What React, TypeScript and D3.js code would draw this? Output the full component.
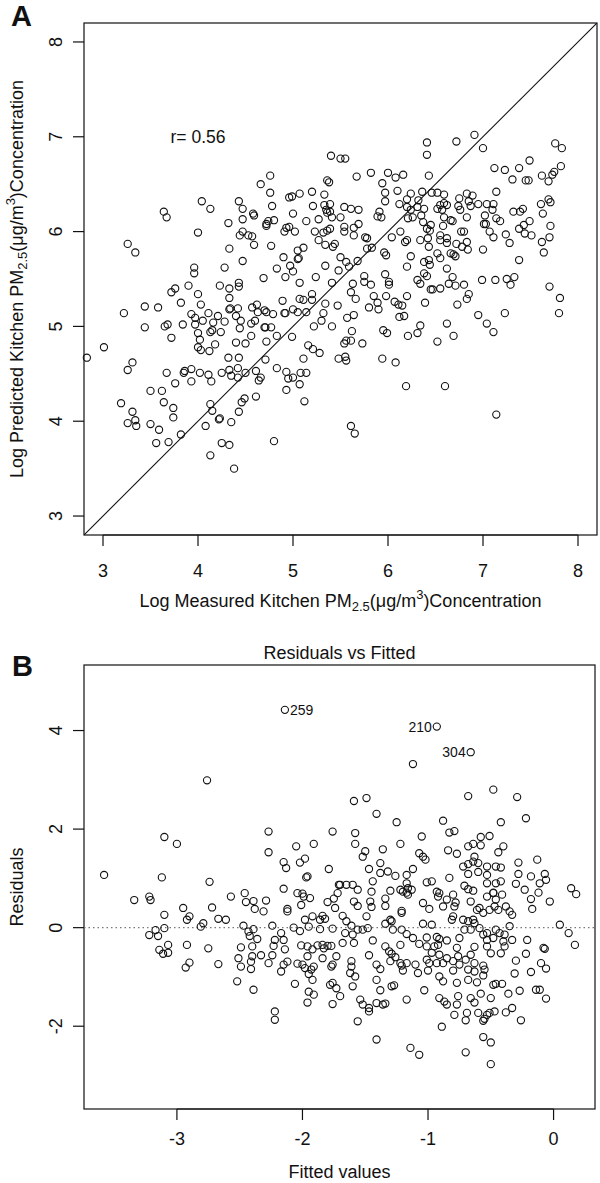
import React from "react";
import * as d3 from "d3";

// ---------- Panel A data: log measured vs log predicted ----------
const measured = [
5.40,5.50,5.55,4.76,4.66,4.76,5.36,5.38,4.04,4.13,4.43,4.47,3.64,3.67,4.32,4.47,4.58,4.59,4.72,4.74,
4.80,4.78,4.96,4.99,5.07,5.20,5.33,5.21,5.33,5.39,5.35,5.36,5.39,5.00,5.14,5.27,5.41,4.93,4.96,5.02,
4.91,5.23,5.27,5.32,5.36,5.39,5.34,5.42,5.44,4.00,4.44,4.47,4.53,4.57,4.59,4.72,4.77,4.33,3.26,3.34,
5.05,5.11,5.05,5.06,4.47,4.90,4.28,3.96,3.96,4.83,4.97,5.00,5.34,5.48,5.24,4.92,4.69,5.07,5.41,4.23,
4.33,4.43,4.43,3.90,3.72,3.76,4.00,4.33,3.82,4.03,3.44,3.58,3.22,4.33,4.34,4.42,4.57,4.62,4.63,4.70,
4.72,4.89,5.07,5.11,5.20,5.20,5.34,5.47,4.79,4.91,4.92,5.00,5.05,5.14,5.32,5.30,3.93,3.97,4.11,4.05,
4.16,4.21,4.28,4.40,4.45,4.56,4.60,3.97,3.68,3.65,3.44,3.84,4.70,4.71,4.77,4.44,4.13,4.15,4.24,4.00,
3.72,4.02,4.56,4.72,4.83,4.99,5.22,5.41,4.18,4.40,4.50,4.00,4.03,4.12,3.01,2.83,5.16,5.21,5.28,5.48,
4.32,4.43,4.71,5.11,3.31,3.26,3.67,3.85,3.86,3.93,3.93,4.02,4.11,4.14,3.76,4.25,4.33,4.35,4.42,4.42,
4.50,4.61,4.64,4.66,4.83,4.93,4.95,5.00,4.93,5.08,5.14,5.07,3.50,3.62,3.19,3.64,3.74,3.74,3.31,3.34,
3.26,3.35,3.50,3.59,3.56,3.69,3.82,4.13,4.15,4.22,4.23,4.35,4.43,4.46,4.49,4.61,5.12,4.08,4.25,4.33,
4.13,4.80,4.38,
6.41,6.72,6.91,7.00,6.41,7.76,7.83,5.67,5.82,6.00,6.08,6.16,5.94,6.43,7.12,7.23,7.38,7.49,7.31,7.45,
7.48,7.62,7.69,7.73,7.75,7.82,5.97,5.97,6.10,6.24,6.20,6.36,6.46,6.52,6.59,6.32,6.31,6.12,6.20,6.24,
6.38,6.75,6.83,6.89,6.85,6.87,6.74,6.76,6.95,7.04,7.11,7.10,7.14,6.55,6.59,6.62,6.52,6.57,5.54,5.61,
5.69,5.89,5.93,5.91,6.21,6.26,6.35,6.37,6.45,6.41,6.44,6.59,6.58,6.66,6.68,6.83,7.02,7.01,7.03,7.14,
7.18,7.32,7.42,7.39,7.61,7.63,7.69,7.71,7.49,7.38,7.43,7.44,7.51,7.71,7.70,5.50,5.54,5.54,5.64,5.69,
5.64,5.76,5.78,6.04,6.13,6.18,6.20,6.34,6.42,6.43,6.55,6.55,6.62,6.62,6.72,6.77,6.80,6.78,6.83,6.84,
7.07,7.11,7.24,7.28,7.00,7.62,7.64,7.38,5.50,5.56,5.68,5.78,5.83,5.96,5.98,6.24,6.20,6.38,6.43,6.44,
6.52,6.55,6.66,6.69,6.71,6.62,5.59,5.75,5.75,5.82,5.97,6.01,6.01,6.31,6.34,6.38,6.41,6.45,6.47,6.55,
6.64,6.68,6.71,6.80,6.85,6.83,6.73,6.99,7.13,7.25,7.29,7.33,7.70,7.81,7.80,5.63,5.61,5.66,5.57,5.64,
5.62,5.85,5.89,5.90,5.80,5.98,6.07,6.11,6.15,6.12,6.17,6.20,6.39,5.95,5.99,6.21,6.31,6.34,6.52,6.62,
6.69,6.95,7.04,7.11,7.23,5.54,5.56,5.61,5.73,5.55,5.56,5.94,6.08,6.19,6.60,7.14,5.61,5.65
];
const predicted = [
6.80,6.77,6.77,6.59,6.50,6.41,6.54,6.52,6.32,6.24,6.32,6.24,6.21,6.15,6.09,6.13,6.19,6.17,6.08,6.11,
6.12,6.27,6.36,6.37,6.40,6.42,6.39,6.27,6.28,6.29,6.23,6.20,6.21,6.19,6.11,6.13,6.15,6.04,6.05,6.00,
6.00,6.00,5.91,5.99,6.01,6.03,5.86,5.84,5.87,5.99,5.96,6.00,5.96,5.95,5.86,6.06,5.85,5.82,5.87,5.78,
5.80,5.83,5.71,5.72,5.69,5.73,5.62,5.62,5.56,5.61,5.64,5.58,5.64,5.59,5.52,5.52,5.51,5.46,5.46,5.43,
5.40,5.46,5.42,5.43,5.36,5.40,5.34,5.30,5.25,5.23,5.21,5.20,5.14,5.18,5.19,5.19,5.20,5.23,5.15,5.17,
5.15,5.27,5.29,5.28,5.34,5.28,5.24,5.22,5.13,5.14,5.14,5.18,5.15,5.15,5.14,5.06,5.13,5.09,5.14,5.06,
5.04,5.11,5.05,5.11,5.06,5.03,5.06,5.02,5.02,5.00,4.99,5.02,4.99,4.99,4.99,4.98,4.94,4.96,4.94,4.93,
4.88,4.86,4.90,4.84,4.90,4.89,5.00,5.00,4.81,4.83,4.82,4.78,4.75,4.74,4.78,4.67,4.80,4.76,4.72,4.66,
4.67,4.67,4.65,4.66,4.62,4.54,4.51,4.51,4.53,4.55,4.42,4.51,4.49,4.42,4.40,4.51,4.54,4.48,4.56,4.46,
4.51,4.53,4.43,4.46,4.56,4.52,4.45,4.46,4.33,4.51,4.51,4.39,4.32,4.32,4.19,4.20,4.14,4.04,4.10,4.01,
3.98,3.95,3.97,3.91,3.77,3.78,3.86,4.18,4.11,4.02,4.03,3.99,4.10,4.20,4.24,4.26,4.21,3.95,3.77,3.75,
3.64,3.79,3.50,
6.94,6.95,7.02,6.88,6.81,6.93,6.88,6.58,6.62,6.62,6.57,6.60,6.51,6.59,6.67,6.65,6.67,6.75,6.55,6.54,
6.54,6.59,6.53,6.60,6.63,6.69,6.41,6.32,6.43,6.40,6.34,6.42,6.41,6.41,6.39,6.33,6.26,6.29,6.26,6.23,
6.24,6.35,6.40,6.38,6.32,6.27,6.27,6.23,6.29,6.29,6.29,6.23,6.42,6.28,6.30,6.28,6.24,6.23,6.26,6.24,
6.23,6.16,6.15,6.21,6.14,6.15,6.17,6.10,6.07,6.03,6.01,6.15,6.06,6.12,6.11,6.15,6.17,6.08,6.08,6.14,
6.11,6.21,6.24,6.21,6.29,6.19,6.34,6.31,6.11,6.03,6.07,5.98,5.96,6.06,5.94,6.15,6.05,6.00,6.04,6.08,
5.96,5.94,5.93,5.94,6.00,5.89,5.91,5.91,5.93,5.84,5.96,5.91,5.93,5.88,5.87,6.00,6.00,5.84,5.89,5.81,
6.00,5.94,5.97,5.88,5.81,5.89,5.78,5.70,5.73,5.68,5.69,5.82,5.83,5.78,5.75,5.74,5.63,5.68,5.70,5.65,
5.77,5.72,5.77,5.76,5.74,5.61,5.63,5.53,5.47,5.44,5.55,5.47,5.44,5.49,5.45,5.56,5.53,5.39,5.39,5.40,
5.45,5.52,5.43,5.44,5.34,5.29,5.23,5.49,5.49,5.50,5.44,5.52,5.42,5.30,5.14,5.45,5.36,5.29,5.09,5.12,
4.95,5.32,5.25,5.18,5.20,5.32,5.26,5.23,5.22,5.10,5.11,5.32,5.25,4.96,4.93,4.90,4.93,5.01,4.84,5.03,
4.90,5.12,5.03,4.94,5.14,4.82,4.85,4.85,4.82,4.68,4.64,4.66,4.62,4.37,4.37,4.07,3.95,3.87
];
const correlationText = "r= 0.56";
const axisTicksA = [3, 4, 5, 6, 7, 8];

// ---------- Panel B data: residuals vs fitted ----------
const pointLabels = ["259", "210", "304"]; // first three points are labelled
const fitted = [
-2.14,-0.93,-0.66,
-2.76,-3.10,-3.00,-2.27,-2.27,-2.05,-1.91,-1.76,-2.15,-2.13,-2.02,-1.98,-1.97,-1.96,-1.79,-3.58,-3.12,
-2.74,-3.34,-3.22,-3.21,-2.95,-2.92,-2.90,-3.10,-2.72,-2.57,-2.67,-2.61,-2.81,-2.79,-2.46,-2.45,-2.39,-2.38,-2.29,-2.31,
-2.15,-2.12,-2.12,-2.04,-2.00,-1.99,-1.94,-2.01,-1.80,-1.75,-1.74,-1.71,-1.72,-1.98,-1.92,-1.86,-1.84,-1.82,-2.07,-2.02,
-1.95,-1.86,-1.76,-3.22,-3.15,-3.17,-3.10,-3.14,-3.11,-3.07,-3.07,-2.92,-2.90,-2.93,-2.75,-2.67,-2.47,-2.43,-2.42,-2.39,
-2.36,-2.49,-2.51,-2.49,-2.41,-2.41,-2.40,-2.40,-2.33,-2.52,-2.39,-2.27,-2.24,-2.22,-2.23,-2.24,-2.17,-2.15,-2.14,-2.17,
-2.15,-2.12,-2.22,-2.22,-2.06,-2.04,-2.00,-1.98,-1.96,-1.95,-1.93,-1.91,-1.92,-2.01,-1.96,-1.92,-1.88,-1.84,-1.83,-1.80,
-1.77,-1.95,-1.91,-1.96,-1.84,-1.77,-1.76,-1.78,-1.76,-1.73,-1.76,-1.73,
-1.12,-1.59,-1.49,-1.41,-1.25,-0.68,-0.48,-0.29,-0.22,-0.42,-0.88,-0.83,-0.79,-1.58,-1.58,-1.50,-1.52,-1.36,-1.22,-1.05,
-1.07,-1.04,-1.02,-1.38,-1.47,-1.44,-1.45,-1.38,-1.32,-1.26,-1.17,-1.12,-1.17,-1.16,-1.22,-1.20,-1.13,-1.30,-1.70,-1.65,
-1.60,-1.56,-1.59,-1.56,-1.46,-1.45,-1.49,-1.34,-1.34,-1.30,-1.29,-1.34,-1.21,-1.21,-1.28,-1.21,-1.17,-1.68,-1.65,-1.61,
-1.56,-1.52,-1.48,-1.66,-1.68,-1.60,-1.59,-1.44,-1.47,-1.34,-1.31,-1.29,-1.22,-1.30,-1.26,-1.22,-1.21,-1.20,-1.41,-1.38,
-1.41,-1.38,-1.61,-1.61,-1.62,-1.58,-1.60,-1.70,-1.54,-1.52,-1.47,-1.47,-1.56,-1.41,-1.36,-1.34,-1.41,-1.29,-1.27,-1.17,
-1.14,-1.07,-1.17,-1.10,-1.08,-1.00,-1.03,-1.12,-1.07,-1.01,-1.01,-0.97,-1.01,-0.99,-1.04,-0.97,-0.93,-0.91,-0.92,-0.95,
-0.85,-0.91,-0.85,-0.93,-0.88,-0.91,-0.88,-0.91,-0.87,-0.85,-0.89,-0.79,-0.77,-0.76,-0.77,-0.80,-0.80,-0.76,-0.75,-0.77,
-0.75,-0.70,-0.69,-0.70,-0.66,-0.63,-0.60,-0.56,-0.55,-0.53,-0.51,-0.47,-0.56,-0.50,-0.50,-0.68,-0.61,-0.58,-0.50,-0.48,
-0.46,-0.41,-0.36,-0.38,-0.33,-0.26,-0.27,-0.31,-0.30,-0.22,-0.18,-0.14,-0.11,-0.06,-0.10,-0.06,-0.08,-0.07,-0.21,-0.33,
-0.40,-0.39,-0.42,-0.70,-0.68,-0.63,-0.63,-0.56,-0.55,-0.56,-0.66,-0.63,-0.53,-0.50,-0.48,-0.53,-0.46,-0.43,-0.39,-0.35,
-0.64,-0.63,-0.66,-0.59,-0.56,-0.53,-0.72,-0.68,-0.71,-0.61,-0.59,-0.56,-0.51,-0.47,-0.44,-0.38,-0.35,-0.33,-0.66,-0.53,
-0.48,-0.46,-0.41,-0.81,-0.80,-0.79,-0.78,-0.80,-0.88,-0.85,-0.91,-0.93,-0.92,-0.99,-1.04,-1.01,-0.97,-0.71,-0.68,-0.64,
-0.83,-0.72,-0.68,-0.68,-0.64,-0.60,-0.53,-0.63,-0.60,-0.53,-0.53,-0.46,-0.42,-0.46,-0.42,-0.48,-0.77,-0.84,-0.68,-0.64,
-0.58,-0.51,-0.58,-0.44,-0.40,-0.28,-0.28,-0.30,-0.13,-0.18,-0.07,-0.11,-0.06,-0.18,-0.17,-0.12,-0.03,-0.23,0.05,0.12,
0.17,0.14,0.18,-1.17,-1.16
];
const residuals = [
4.42,4.08,3.56,
2.99,1.84,1.70,1.95,1.53,1.65,1.70,1.95,1.33,1.21,1.32,1.40,1.02,1.04,1.19,1.07,1.02,
0.93,0.56,0.63,0.56,0.40,0.16,0.23,0.26,0.41,0.63,0.18,0.16,0.02,0.09,0.70,0.52,0.54,0.38,0.55,0.33,
0.79,0.33,0.38,0.70,0.69,0.63,0.60,0.46,0.52,0.59,0.40,0.87,0.70,0.16,0.23,0.16,0.24,0.18,0.00,-0.07,
0.02,-0.03,-0.02,-0.15,-0.17,-0.05,-0.01,-0.45,-0.53,-0.51,-0.35,-0.35,-0.71,-0.81,-0.42,-0.74,0.04,-0.08,-0.17,-0.03,
-0.23,-0.40,-0.62,-0.79,-0.69,-0.84,-0.38,-0.58,-0.56,-1.09,-1.26,-0.72,0.04,-0.25,-0.37,-0.56,-0.11,-0.25,-0.44,-0.89,
-0.75,-0.69,-1.70,-1.87,-1.14,-0.73,-0.75,-0.82,-0.58,-0.94,-0.85,-0.79,-1.06,-0.36,-0.38,-0.44,-0.36,-0.35,-0.42,-0.37,
-0.37,-1.30,-1.36,-1.52,-0.62,-0.79,-0.75,-1.16,-1.12,-1.23,-1.55,-0.58,
3.32,2.57,2.63,2.31,2.14,2.67,2.80,2.65,2.22,2.14,2.17,1.93,1.96,1.92,1.70,1.55,1.44,1.59,1.70,1.85,
1.51,1.44,1.38,1.31,1.19,0.94,0.73,1.11,1.14,1.05,1.07,1.19,0.90,0.80,0.77,0.73,0.77,0.75,0.87,0.87,
0.87,0.77,0.53,0.44,0.53,0.42,0.23,0.59,0.44,0.16,0.13,0.08,0.34,0.30,-0.04,-0.04,-0.13,0.24,0.13,0.04,
-0.04,-0.04,-0.01,-0.11,-0.31,-0.14,-0.31,-0.26,-0.56,-0.38,-0.48,-0.53,-0.35,-0.68,-0.60,-0.72,-0.77,-0.87,-0.75,-0.84,
-1.06,-1.27,-0.68,-0.79,-0.92,-0.99,-1.19,-1.39,-1.46,-1.56,-1.70,-1.63,-1.90,-1.53,-1.56,-1.54,-2.27,-1.19,-1.17,-1.46,
-2.44,-2.58,-0.72,-0.75,-0.92,-0.87,-1.27,-0.21,-0.33,-0.20,-0.38,-0.51,-0.65,-0.72,0.08,0.06,-0.19,-0.23,-0.35,-0.38,
-0.26,-0.55,-0.62,-0.72,-0.72,-0.99,-1.09,-1.43,-1.50,-1.56,-2.01,-1.77,-1.56,-1.39,-1.12,-0.87,-0.68,-0.58,-0.75,-0.41,
-0.21,-1.88,-1.73,-2.53,-1.43,-1.52,-1.73,-1.89,-1.85,-1.77,-1.73,-1.70,-2.22,-2.33,-2.77,-1.06,-1.11,-1.34,-1.43,-1.16,
-1.14,-1.14,-1.34,-1.72,-1.63,-1.88,-1.28,-0.93,-0.67,-0.53,-0.90,-1.26,-1.26,-1.44,-0.72,-0.83,-0.41,-0.43,-0.25,-0.25,
-0.28,-0.38,-0.52,-0.65,-0.85,-0.72,-0.89,-0.77,-0.85,-0.97,-0.55,-0.39,-0.38,-0.52,-0.21,-0.25,-0.04,-0.11,-0.14,0.03,
0.16,0.09,-0.04,-0.01,-0.14,-0.11,0.16,0.13,-0.04,0.36,0.40,0.30,0.36,0.43,0.36,0.43,0.33,0.26,0.53,0.63,
0.70,0.57,0.67,0.16,0.23,0.43,0.51,0.67,0.43,0.57,0.70,0.73,0.63,0.38,0.50,0.92,0.94,0.85,0.78,0.75,
1.01,1.24,1.29,1.09,1.34,1.31,1.24,1.44,1.13,1.07,0.90,1.24,1.22,0.90,0.94,0.71,1.50,1.57,1.65,1.70,
1.84,1.86,1.67,1.53,1.65,1.32,1.09,0.89,1.38,1.04,1.09,0.90,0.97,0.58,0.38,0.71,0.53,0.77,0.06,-0.11,
-0.35,0.80,0.68,0.71,0.67
];
const fittedTicks = [-3, -2, -1, 0];
const residualTicks = [-2, 0, 2, 4];

const FONT = "'Liberation Sans', Arial, Helvetica, sans-serif";
const INK = "#111";

function Unit({ prefix }: { prefix: string }) {
  return (
    <>
      {prefix} PM
      <tspan fontSize={13} dy={4}>2.5</tspan>
      <tspan dy={-4}>(μg/m</tspan>
      <tspan fontSize={13} dy={-8}>3</tspan>
      <tspan dy={8}>)Concentration</tspan>
    </>
  );
}

export default function App() {
  // Panel A geometry
  const A = { left: 84, right: 597, top: 23, bottom: 535 };
  const xA = d3.scaleLinear().domain([2.8, 8.2]).range([A.left, A.right]);
  const yA = d3.scaleLinear().domain([2.8, 8.2]).range([A.bottom, A.top]);

  // Panel B geometry
  const B = { left: 84, right: 595, top: 665, bottom: 1109 };
  const xB = d3.scaleLinear().domain([-3.74, 0.33]).range([B.left, B.right]);
  const yB = d3.scaleLinear().domain([-3.68, 5.33]).range([B.bottom, B.top]);

  const tick = 11;
  const r = 3.6;
  const diag = d3.line<number>().x((v) => xA(v)).y((v) => yA(v))([2.8, 8.2]);

  return (
    <svg
      width={600}
      height={1183}
      style={{ position: "absolute", left: 0, top: 0, background: "#fff" }}
      fontFamily={FONT}
    >
      <rect x={0} y={0} width={600} height={1183} fill="#fff" />
      <defs>
        <clipPath id="clipA">
          <rect x={A.left} y={A.top} width={A.right - A.left} height={A.bottom - A.top} />
        </clipPath>
      </defs>

      {/* ---------------- Panel A ---------------- */}
      <text x={11} y={26} fontSize={29} fontWeight="bold" fill={INK}>A</text>
      <rect x={A.left} y={A.top} width={A.right - A.left} height={A.bottom - A.top}
        fill="none" stroke={INK} strokeWidth={1.2} />
      <path d={diag || ""} stroke={INK} strokeWidth={1.1} fill="none" clipPath="url(#clipA)" />
      {measured.map((m, i) => (
        <circle key={"a" + i} cx={xA(m)} cy={yA(predicted[i])} r={r}
          fill="none" stroke={INK} strokeWidth={1.1} />
      ))}
      <text x={xA(4)} y={yA(7) + 6} fontSize={17.5} textAnchor="middle" fill={INK}>{correlationText}</text>
      {/* x axis */}
      <line x1={xA(3)} x2={xA(8)} y1={A.bottom} y2={A.bottom} stroke={INK} strokeWidth={1.2} />
      {axisTicksA.map((t) => (
        <g key={"xa" + t}>
          <line x1={xA(t)} x2={xA(t)} y1={A.bottom} y2={A.bottom + tick} stroke={INK} strokeWidth={1.2} />
          <text x={xA(t)} y={577} fontSize={18} textAnchor="middle" fill={INK}>{t}</text>
        </g>
      ))}
      <text x={(A.left + A.right) / 2} y={607} fontSize={18} textAnchor="middle" fill={INK}>
        <Unit prefix="Log Measured Kitchen" />
      </text>
      {/* y axis */}
      {axisTicksA.map((t) => (
        <g key={"ya" + t}>
          <line x1={A.left - tick} x2={A.left} y1={yA(t)} y2={yA(t)} stroke={INK} strokeWidth={1.2} />
          <text transform={`translate(62,${yA(t)}) rotate(-90)`} fontSize={18} textAnchor="middle" fill={INK}>{t}</text>
        </g>
      ))}
      <text transform={`translate(23,${(A.top + A.bottom) / 2}) rotate(-90)`} fontSize={18}
        textAnchor="middle" fill={INK}>
        <Unit prefix="Log Predicted Kitchen" />
      </text>

      {/* ---------------- Panel B ---------------- */}
      <text x={12} y={676} fontSize={29} fontWeight="bold" fill={INK}>B</text>
      <text x={(B.left + B.right) / 2} y={659} fontSize={18} textAnchor="middle" fill={INK}>Residuals vs Fitted</text>
      <rect x={B.left} y={B.top} width={B.right - B.left} height={B.bottom - B.top}
        fill="none" stroke={INK} strokeWidth={1.2} />
      <line x1={B.left} x2={B.right} y1={yB(0)} y2={yB(0)} stroke="#777" strokeWidth={1.1} strokeDasharray="1.5,3" />
      {fitted.map((f, i) => (
        <circle key={"b" + i} cx={xB(f)} cy={yB(residuals[i])} r={r}
          fill="none" stroke={INK} strokeWidth={1.1} />
      ))}
      {pointLabels.map((lab, i) => (
        <text key={"lab" + i}
          x={i === 0 ? xB(fitted[i]) + 5 : xB(fitted[i]) - 5}
          y={yB(residuals[i]) + 5}
          fontSize={14} textAnchor={i === 0 ? "start" : "end"} fill={INK}>{lab}</text>
      ))}
      {/* x axis */}
      <line x1={xB(-3)} x2={xB(0)} y1={B.bottom} y2={B.bottom} stroke={INK} strokeWidth={1.2} />
      {fittedTicks.map((t) => (
        <g key={"xb" + t}>
          <line x1={xB(t)} x2={xB(t)} y1={B.bottom} y2={B.bottom + tick} stroke={INK} strokeWidth={1.2} />
          <text x={xB(t)} y={1145} fontSize={18} textAnchor="middle" fill={INK}>{t}</text>
        </g>
      ))}
      <text x={(B.left + B.right) / 2} y={1178} fontSize={18} textAnchor="middle" fill={INK}>Fitted values</text>
      {/* y axis */}
      {residualTicks.map((t) => (
        <g key={"yb" + t}>
          <line x1={B.left - tick} x2={B.left} y1={yB(t)} y2={yB(t)} stroke={INK} strokeWidth={1.2} />
          <text transform={`translate(62,${yB(t)}) rotate(-90)`} fontSize={18} textAnchor="middle" fill={INK}>{t}</text>
        </g>
      ))}
      <text transform={`translate(23,${(B.top + B.bottom) / 2}) rotate(-90)`} fontSize={18}
        textAnchor="middle" fill={INK}>Residuals</text>
    </svg>
  );
}
